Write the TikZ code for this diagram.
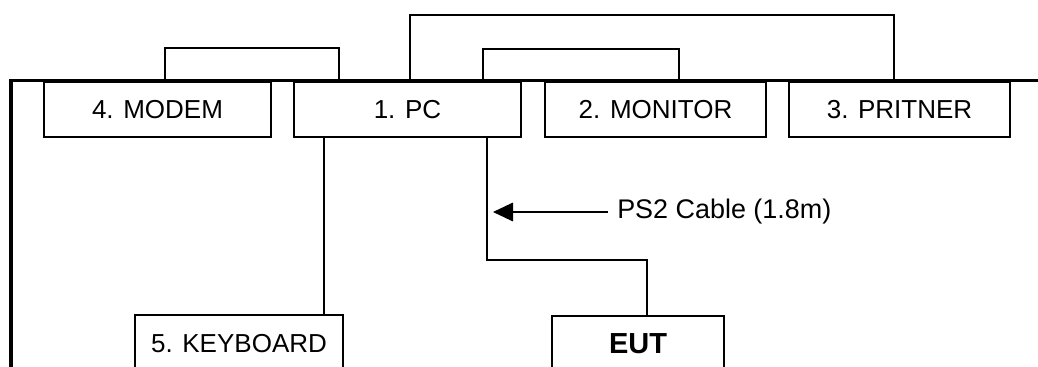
\documentclass[tikz,border=0pt]{standalone}
\usepackage{fontspec}
\setmainfont{Liberation Sans}
\usetikzlibrary{arrows.meta}
\begin{document}
\begin{tikzpicture}[x=0.75pt,y=-0.75pt,
  box/.style={draw=black,line width=0.8pt,fill=white,minimum height=41.25pt,inner sep=0pt,
    font=\fontsize{19.5pt}{23pt}\selectfont},
  bus/.style={line width=2.4pt},
  cable/.style={line width=0.9pt}]
\useasboundingbox (0,0) rectangle (1038,367);
\clip (0,0) rectangle (1038,367);
% bus
\draw[bus,line join=miter] (1040,80.5) -- (11,80.5) -- (11,370);
% boxes
\node[box,minimum width=170.25pt] (modem) at (157.5,109.5) {4. MODEM};
\node[box,minimum width=170.25pt] (pc) at (407.5,109.5) {1. PC};
\node[box,minimum width=165.75pt] (monitor) at (655.5,109.5) {2. MONITOR};
\node[box,minimum width=165.75pt] (printer) at (899.5,109.5) {3. PRITNER};
\node[box,minimum width=156pt,minimum height=42.75pt] (keyboard) at (239,343.5) {5. KEYBOARD};
\node[box,minimum width=129pt,minimum height=42pt,font=\fontsize{21.75pt}{25pt}\selectfont\bfseries] (eut) at (638,344) {EUT};
% bracket cables on the bus
\coordinate (mA) at (165,80); \coordinate (mB) at (339,80);
\coordinate (pA) at (410,80); \coordinate (pB) at (894,80);
\coordinate (nA) at (483,80); \coordinate (nB) at (679,80);
\draw[cable] (mA) -- (165,48) -- (339,48) -- (mB);
\draw[cable] (pA) -- (410,15) -- (894,15) -- (pB);
\draw[cable] (nA) -- (483,49) -- (679,49) -- (nB);
% keyboard cable
\coordinate (k) at (324,0);
\draw[cable] (pc.south -| k) -- (keyboard.north -| k);
% EUT cable
\coordinate (e1) at (487,260); \coordinate (e2) at (647,260);
\draw[cable] (pc.south -| e1) -- (e1) -- (e2) -- (eut.north -| e2);
% label and arrow
\node[anchor=west,inner xsep=6.75pt,inner ysep=0pt,font=\fontsize{20.2pt}{24pt}\selectfont] (ps2) at (608,212) {PS2 Cable (1.8m)};
\coordinate (tip) at (493,212);
\draw[cable,-{Triangle[length=15pt,width=14pt]}] (ps2.west) -- (tip);
\end{tikzpicture}
\end{document}
